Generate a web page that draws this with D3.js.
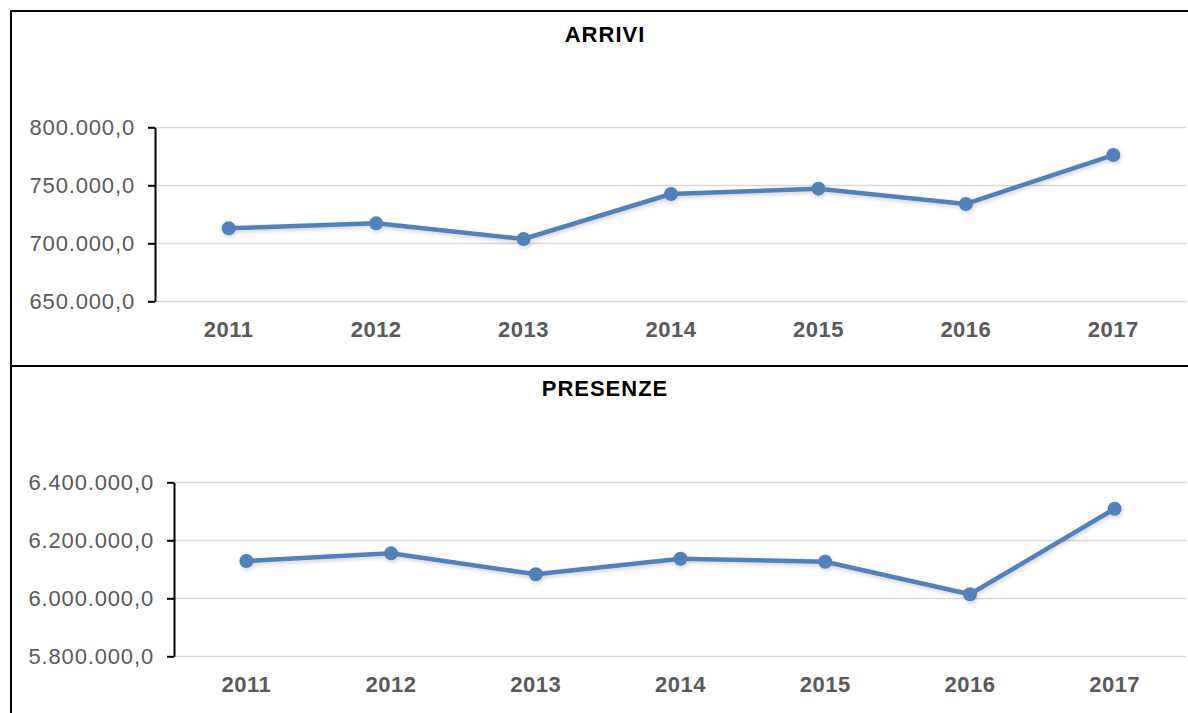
<!DOCTYPE html>
<html>
<head>
<meta charset="utf-8">
<script src="https://cdn.jsdelivr.net/npm/d3@7"></script>
<style>
  html, body { margin: 0; padding: 0; background: #fff; }
  svg { display: block; font-family: "Liberation Sans", Arial, sans-serif; }
</style>
</head>
<body>
<div id="chart"></div>
<script>
var YEARS = ['2011', '2012', '2013', '2014', '2015', '2016', '2017'];

var ARRIVI = [712900, 717200, 703700, 742500, 747100, 733900, 776100];
var ARRIVI_TICKS = [650000, 700000, 750000, 800000];

var PRESENZE = [6128600, 6155000, 6082800, 6136600, 6126000, 6013800, 6309000];
var PRESENZE_TICKS = [5800000, 6000000, 6200000, 6400000];

var LINE_COLOR = '#4f81bd';
var TEXT_COLOR = '#595959';

var WIDTH = 1188;
var HEIGHT = 713;

var it = d3.formatLocale({decimal: ',', thousands: '.', grouping: [3], currency: ['€', '']});
var fmt = it.format(',.1f');

var svg = d3.select('#chart').append('svg')
    .attr('width', WIDTH)
    .attr('height', HEIGHT);

var defs = svg.append('defs');
defs.append('filter')
    .attr('id', 'shadow')
    .attr('x', '-5%').attr('y', '-20%')
    .attr('width', '110%').attr('height', '140%')
  .append('feDropShadow')
    .attr('dx', 1).attr('dy', 2)
    .attr('stdDeviation', 2)
    .attr('flood-color', '#000')
    .attr('flood-opacity', 0.18);

// panel frames
svg.append('line')
    .attr('x1', 11).attr('x2', WIDTH).attr('y1', 11).attr('y2', 11)
    .attr('stroke', '#000').attr('stroke-width', 2);
svg.append('line')
    .attr('x1', 11).attr('x2', WIDTH).attr('y1', 366).attr('y2', 366)
    .attr('stroke', '#000').attr('stroke-width', 2);
svg.append('line')
    .attr('x1', 11).attr('x2', 11).attr('y1', 10).attr('y2', HEIGHT)
    .attr('stroke', '#000').attr('stroke-width', 2);

var panels = [
    {title: 'ARRIVI', values: ARRIVI, ticks: ARRIVI_TICKS,
     left: 155, top: 127.3, bottom: 301.3, titleY: 42, labelY: 337},
    {title: 'PRESENZE', values: PRESENZE, ticks: PRESENZE_TICKS,
     left: 174, top: 482.3, bottom: 656.3, titleY: 396, labelY: 692}
];

panels.forEach(function(p) {
    var sx = d3.scaleBand()
        .domain(YEARS)
        .range([p.left, 1187]);
    var sy = d3.scaleLinear()
        .domain([p.ticks[0], p.ticks[p.ticks.length - 1]])
        .range([p.bottom, p.top]);

    var g = svg.append('g');

    g.append('text')
        .attr('x', 605)
        .attr('y', p.titleY)
        .attr('text-anchor', 'middle')
        .attr('font-size', 22)
        .attr('font-weight', 'bold')
        .attr('letter-spacing', 1)
        .attr('fill', '#000')
        .text(p.title);

    // gridlines
    g.selectAll('.grid').data(p.ticks).enter()
      .append('line')
        .attr('class', 'grid')
        .attr('x1', p.left).attr('x2', 1187)
        .attr('y1', function(d) { return Math.round(sy(d)) + 0.5; })
        .attr('y2', function(d) { return Math.round(sy(d)) + 0.5; })
        .attr('stroke', '#d9d9d9')
        .attr('stroke-width', 1.5);

    var ay = d3.axisLeft(sy)
        .tickValues(p.ticks)
        .tickSize(7)
        .tickSizeOuter(0)
        .tickPadding(13)
        .tickFormat(fmt);

    var gy = g.append('g')
        .attr('transform', 'translate(' + p.left + ',0)')
        .call(ay);
    gy.select('.domain').attr('stroke', '#000').attr('stroke-width', 2);
    gy.selectAll('.tick line').attr('stroke', '#000').attr('stroke-width', 2);
    gy.selectAll('.tick text')
        .attr('fill', TEXT_COLOR)
        .attr('font-size', 22)
        .attr('letter-spacing', 0.85)
        .attr('font-family', '"Liberation Sans", Arial, sans-serif');

    g.selectAll('.year').data(YEARS).enter()
      .append('text')
        .attr('class', 'year')
        .attr('x', function(d) { return sx(d) + sx.bandwidth() / 2; })
        .attr('y', p.labelY)
        .attr('text-anchor', 'middle')
        .attr('font-size', 22)
        .attr('font-weight', 'bold')
        .attr('letter-spacing', 0.5)
        .attr('fill', TEXT_COLOR)
        .text(function(d) { return d; });

    var pts = YEARS.map(function(y, i) { return [y, p.values[i]]; });
    var line = d3.line()
        .x(function(d) { return sx(d[0]) + sx.bandwidth() / 2; })
        .y(function(d) { return sy(d[1]); });

    var gl = g.append('g').attr('filter', 'url(#shadow)');
    gl.append('path')
        .datum(pts)
        .attr('d', line)
        .attr('fill', 'none')
        .attr('stroke', LINE_COLOR)
        .attr('stroke-width', 4.5)
        .attr('stroke-linejoin', 'round');
    gl.selectAll('circle').data(pts).enter()
      .append('circle')
        .attr('cx', function(d) { return sx(d[0]) + sx.bandwidth() / 2; })
        .attr('cy', function(d) { return sy(d[1]); })
        .attr('r', 7)
        .attr('fill', LINE_COLOR);
});
</script>
</body>
</html>
